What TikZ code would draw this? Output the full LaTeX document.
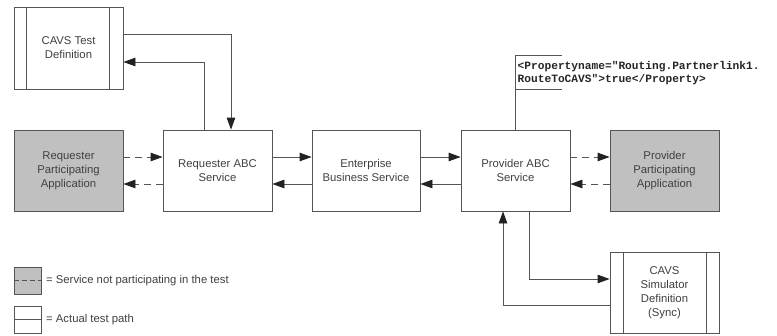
\documentclass[tikz,border=0pt]{standalone}
\usepackage{fontspec}
\setmainfont{Liberation Sans}
\setmonofont{Liberation Mono}
\usetikzlibrary{arrows.meta}
\definecolor{ln}{HTML}{555555}
\definecolor{tip}{HTML}{222222}
\definecolor{tx}{HTML}{404040}
\definecolor{gfill}{HTML}{C0C0C0}
\tikzset{
  box/.style={draw=ln, line width=0.8pt, minimum width=109pt, minimum height=81pt, inner sep=2pt,
    align=center, text=tx, font=\fontsize{11.3}{14}\selectfont},
  graybox/.style={box, fill=gfill},
  conn/.style={draw=ln, line width=0.8pt, -{Triangle[length=12pt,width=8.5pt,color=tip]}},
  dconn/.style={conn, dash pattern=on 7pt off 5pt},
  plain/.style={draw=ln, line width=0.8pt},
}
\begin{document}
\begin{tikzpicture}[x=1pt,y=-1pt]
\useasboundingbox (0,0) rectangle (777,335);
\fill[white] (0,0) rectangle (777,335);

\node[graybox] (rapp) at (68.5,170.5) {Requester\\Participating\\Application};
\node[box] (rabc) at (217.5,170.5) {Requester ABC\\Service};
\node[box, minimum width=108pt] (ebs) at (366,170.5) {Enterprise\\Business Service};
\node[box] (pabc) at (515.5,170.5) {Provider ABC\\Service};
\node[graybox] (papp) at (664.5,170.5) {Provider\\Participating\\Application};
\node[box, minimum height=82pt] (cavs) at (68.5,48) {CAVS Test\\Definition};
\draw[plain] ([xshift=13pt]cavs.north west) -- ([xshift=13pt]cavs.south west);
\draw[plain] ([xshift=-14pt]cavs.north east) -- ([xshift=-14pt]cavs.south east);
\node[box] (sim) at (664.5,292.5) {CAVS\\Simulator\\Definition\\(Sync)};
\draw[plain] ([xshift=14pt]sim.north west) -- ([xshift=14pt]sim.south west);
\draw[plain] ([xshift=-13pt]sim.north east) -- ([xshift=-13pt]sim.south east);

% horizontal flows
\draw[dconn] ([yshift=13.5pt]rapp.east) -- ([yshift=13.5pt]rabc.west);
\draw[dconn] ([yshift=-13.5pt]rabc.west) -- ([yshift=-13.5pt]rapp.east);
\draw[conn] ([yshift=13.5pt]rabc.east) -- ([yshift=13.5pt]ebs.west);
\draw[conn] ([yshift=-13.5pt]ebs.west) -- ([yshift=-13.5pt]rabc.east);
\draw[conn] ([yshift=13.5pt]ebs.east) -- ([yshift=13.5pt]pabc.west);
\draw[conn] ([yshift=-13.5pt]pabc.west) -- ([yshift=-13.5pt]ebs.east);
\draw[dconn] ([yshift=13.5pt]pabc.east) -- ([yshift=13.5pt]papp.west);
\draw[dconn] ([yshift=-13.5pt]papp.west) -- ([yshift=-13.5pt]pabc.east);

% CAVS test definition links
\draw[conn] ([yshift=14pt]cavs.east) -| ([xshift=13.5pt]rabc.north);
\draw[conn] ([xshift=-13.5pt]rabc.north) |- ([yshift=-14pt]cavs.east);

% simulator links
\draw[conn] ([xshift=13.5pt]pabc.south) |- ([yshift=13.5pt]sim.west);
\draw[conn] ([yshift=-12.5pt]sim.west) -| ([xshift=-12.5pt]pabc.south);

% annotation
\coordinate (atop) at (515.5,55);
\coordinate (abot) at (515.5,89);
\draw[plain] (pabc.north) -- (atop) -- ++(46,0);
\draw[plain] (abot) -- ++(46,0);
\node[anchor=west, inner sep=0pt, align=left, text=black!85, font=\ttfamily\bfseries\fontsize{11.2}{13}\selectfont] (ann) at (517.5,73.5)
  {<Propertyname="Routing.Partnerlink1.\\RouteToCAVS">true</Property>};

% legend
\node[draw=ln, line width=0.8pt, fill=gfill, minimum width=27pt, minimum height=27pt, inner sep=0pt] (lg1) at (27.5,280.5) {};
\draw[plain, dash pattern=on 5pt off 3pt] (lg1.west) -- (lg1.east);
\node[anchor=west, inner sep=0pt, text=tx, font=\fontsize{11.3}{14}\selectfont] (lt1) at (46,280.5) {= Service not participating in the test};
\node[draw=ln, line width=0.8pt, fill=white, minimum width=27pt, minimum height=27pt, inner sep=0pt] (lg2) at (27.5,319.5) {};
\draw[plain] (lg2.west) -- (lg2.east);
\node[anchor=west, inner sep=0pt, text=tx, font=\fontsize{11.3}{14}\selectfont] (lt2) at (46,319.5) {= Actual test path};
\end{tikzpicture}
\end{document}
